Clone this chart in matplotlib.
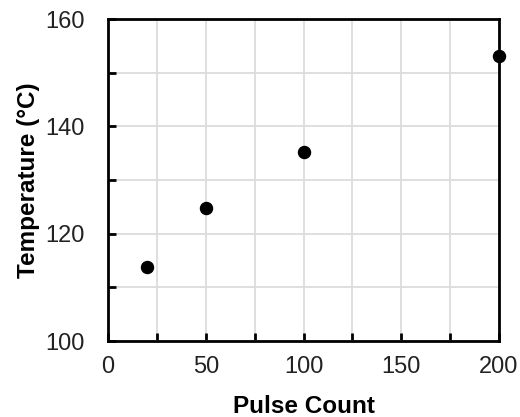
import matplotlib
matplotlib.use('Agg')
from matplotlib import pyplot as plt
from matplotlib.ticker import MultipleLocator

# Pulse count vs. peak temperature
pulses = [20, 50, 100, 200]
temps = [113.8, 124.8, 135.2, 153.1]

plt.rcParams['font.family'] = ['Liberation Sans', 'DejaVu Sans']

fig = plt.figure(figsize=(5.2, 4.17), dpi=100)
ax = fig.add_axes([108/520, 1 - 341/417, 391/520, 322/417])

ax.scatter(pulses, temps, s=75, color='black', zorder=3, clip_on=False)

ax.set_xlim(0, 200)
ax.set_ylim(100, 160)
ax.xaxis.set_major_locator(MultipleLocator(50))
ax.xaxis.set_minor_locator(MultipleLocator(25))
ax.yaxis.set_major_locator(MultipleLocator(20))
ax.yaxis.set_minor_locator(MultipleLocator(10))

ax.grid(which='both', color='#dcdcdc', linewidth=1.3, zorder=0)
ax.set_axisbelow(True)
ax.tick_params(which='both', direction='in', length=6, width=2, labelsize=17,
               top=False, right=False, labelcolor='#222222')
ax.tick_params(axis='x', pad=11)
ax.tick_params(axis='y', pad=16.5)
for s in ax.spines.values():
    s.set_linewidth(2)

ax.set_xlabel('Pulse Count', fontsize=17.5, fontweight='bold', labelpad=12)
ax.set_ylabel('Temperature (°C)', fontsize=17.5, fontweight='bold', labelpad=4)

plt.savefig('out.png', dpi=100)
